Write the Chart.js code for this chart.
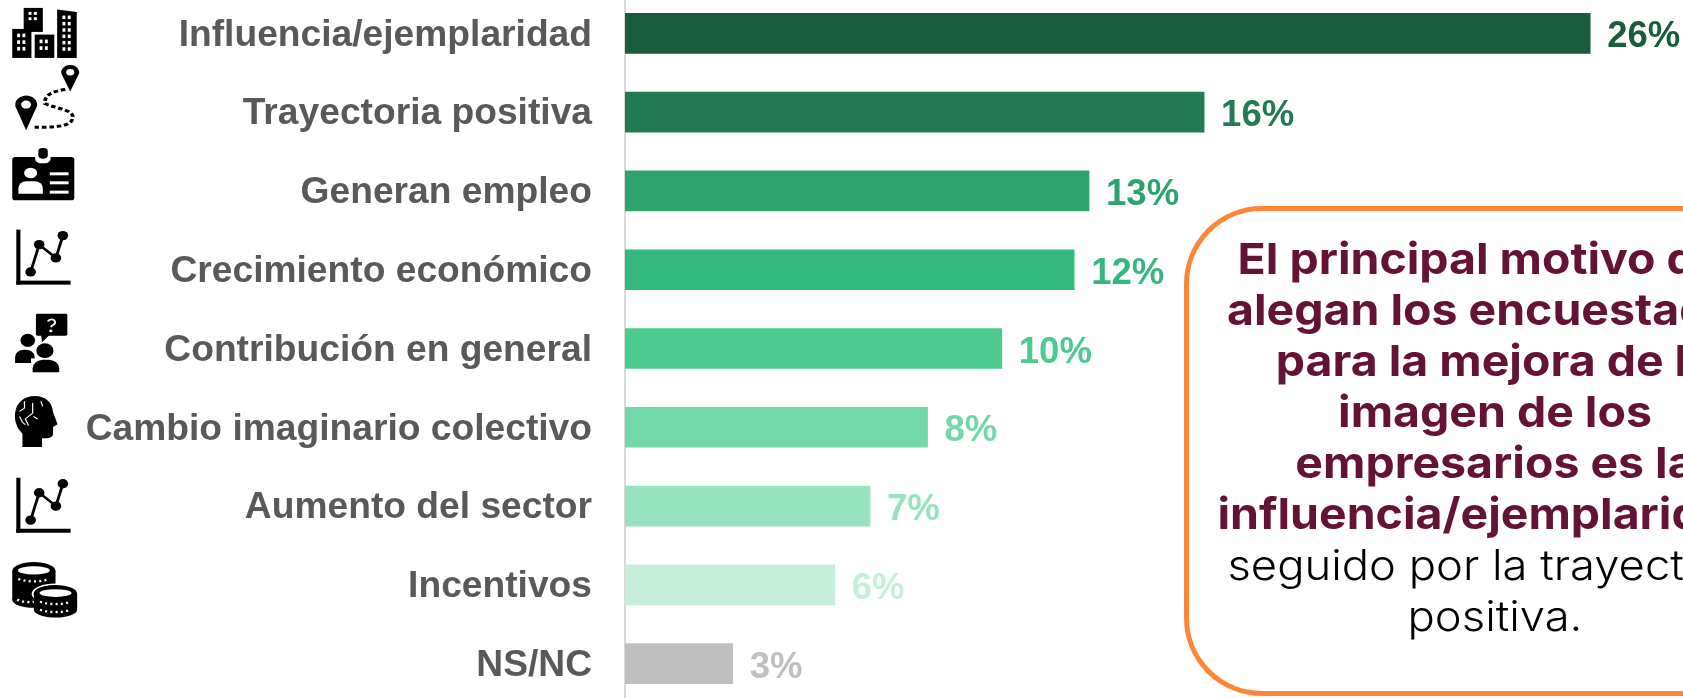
<!DOCTYPE html>
<html lang="es">
<head>
<meta charset="utf-8">
<title>Motivos de mejora de la imagen de los empresarios</title>
<script src="https://cdn.jsdelivr.net/npm/chart.js@4/dist/chart.umd.min.js"></script>
<style>
    html, body { margin: 0; padding: 0; width: 1683px; height: 698px; overflow: hidden; background: #fff; }
    #chart { position: absolute; left: 0; top: -6px; }
    #callout {
        position: absolute; left: 1184px; top: 206px; width: 612px; height: 480px;
        border: 5px solid #FF8636; border-radius: 78px; background: #fff;
        font-family: Inter, sans-serif; line-height: 51px;
        text-align: center; white-space: nowrap; color: #000;
    }
    #callout .text { padding-top: 22px; transform: scaleX(1.08); }
    #callout b { display: block; font-size: 43px; font-weight: 700; color: #651237; }
    #callout span { display: block; font-size: 42px; font-weight: 300; }
</style>
</head>
<body>
<canvas id="chart" width="1683" height="709"></canvas>
<div id="callout"><div class="text">
    <b>El principal motivo que</b>
    <b>alegan los encuestados</b>
    <b>para la mejora de la</b>
    <b>imagen de los</b>
    <b>empresarios es la</b>
    <b>influencia/ejemplaridad,</b>
    <span>seguido por la trayectoria</span>
    <span>positiva.</span>
</div></div>
<script>
const categories = ['Influencia/ejemplaridad', 'Trayectoria positiva', 'Generan empleo', 'Crecimiento económico',
    'Contribución en general', 'Cambio imaginario colectivo', 'Aumento del sector', 'Incentivos', 'NS/NC'];
const values = [26, 15.6, 12.5, 12.1, 10.15, 8.15, 6.6, 5.65, 2.9];
const barColors = ['#1A5C3E', '#237B55', '#2EA36E', '#35B87E', '#4BCB8F', '#73D8A9', '#97E2BF', '#C5EEDB', '#BFBFBF'];

function disc(ctx, x, y, r, ry) {
    ctx.beginPath();
    ctx.ellipse(x, y, r, ry || r, 0, 0, Math.PI * 2);
    ctx.fill();
}

function pin(ctx, x, y, r, tip) {
    ctx.fillStyle = '#000';
    ctx.beginPath();
    ctx.arc(x, y, r, Math.PI * 0.95, Math.PI * 0.05);
    ctx.lineTo(x, tip);
    ctx.closePath();
    ctx.fill();
    ctx.fillStyle = '#fff';
    disc(ctx, x, y, r * 0.45);
}

function windows(ctx, x, y, cols, rows, stepX, stepY) {
    ctx.fillStyle = '#fff';
    for (let c = 0; c < cols; c++) {
        for (let r = 0; r < rows; r++) {
            ctx.fillRect(x + c * stepX, y + r * stepY, stepX * 0.55, stepY * 0.55);
        }
    }
}

// pictograms are sketched in stretched units, see the scale call in iconPlugin
const drawBuildings = ctx => {
    ctx.fillStyle = '#000';
    ctx.fillRect(58, 25, 47, 72);
    ctx.fillRect(30, 88, 47, 87);
    ctx.fillRect(85, 105, 48, 70);
    ctx.beginPath();
    ctx.moveTo(140, 30); ctx.lineTo(188, 37); ctx.lineTo(188, 175); ctx.lineTo(140, 175);
    ctx.fill();
    windows(ctx, 70, 37, 2, 2, 13, 16);
    windows(ctx, 42, 102, 2, 3, 13, 20);
    windows(ctx, 97, 120, 2, 2, 13, 20);
    windows(ctx, 153, 48, 2, 6, 13, 19);
};

const drawRoute = ctx => {
    pin(ctx, 172, 218, 22, 276);
    pin(ctx, 64, 315, 27, 392);
    ctx.strokeStyle = '#000';
    ctx.lineWidth = 9;
    ctx.setLineDash([11, 7]);
    ctx.beginPath();
    ctx.moveTo(160, 270);
    ctx.bezierCurveTo(130, 275, 108, 285, 110, 312);
    ctx.bezierCurveTo(130, 325, 180, 330, 178, 352);
    ctx.bezierCurveTo(180, 385, 120, 383, 82, 383);
    ctx.stroke();
    ctx.setLineDash([]);
};

const drawBadge = ctx => {
    ctx.fillStyle = '#000';
    ctx.beginPath();
    ctx.roundRect(30, 472, 152, 130, 8);
    ctx.fill();
    ctx.fillStyle = '#fff';
    ctx.beginPath();
    ctx.roundRect(86, 445, 38, 46, 14);
    ctx.fill();
    ctx.fillStyle = '#000';
    ctx.beginPath();
    ctx.roundRect(94, 445, 23, 32, 10);
    ctx.fill();
    ctx.fillStyle = '#fff';
    disc(ctx, 75, 520, 16);
    ctx.beginPath();
    ctx.roundRect(45, 545, 60, 37, [20, 20, 0, 0]);
    ctx.fill();
    ctx.fillRect(122, 518, 46, 9);
    ctx.fillRect(122, 545, 46, 9);
    ctx.fillRect(122, 573, 46, 9);
};

const drawGrowth = ctx => {
    ctx.fillStyle = '#000';
    ctx.fillRect(40, 690, 10, 165);
    ctx.fillRect(40, 843, 133, 12);
    ctx.strokeStyle = '#000';
    ctx.lineWidth = 7;
    ctx.beginPath();
    ctx.moveTo(75, 817); ctx.lineTo(96, 735); ctx.lineTo(137, 775); ctx.lineTo(154, 708);
    ctx.stroke();
    [[75, 817], [96, 735], [137, 775], [154, 708]].forEach(p => disc(ctx, p[0], p[1], 13, 14));
};

const drawPeople = ctx => {
    ctx.fillStyle = '#000';
    ctx.beginPath();
    ctx.roundRect(88, 942, 77, 66, 4);
    ctx.fill();
    ctx.beginPath();
    ctx.moveTo(100, 1000); ctx.lineTo(122, 1005); ctx.lineTo(103, 1028);
    ctx.fill();
    disc(ctx, 68, 1022, 18, 20);
    ctx.beginPath();
    ctx.roundRect(37, 1050, 48, 40, [22, 22, 0, 0]);
    ctx.fill();
    disc(ctx, 110, 1053, 21, 22);
    ctx.fillStyle = '#fff';
    ctx.fillRect(76, 1076, 12, 16);
    ctx.fillStyle = '#000';
    ctx.beginPath();
    ctx.roundRect(80, 1080, 65, 38, [26, 26, 0, 0]);
    ctx.fill();
    ctx.strokeStyle = '#fff';
    ctx.lineWidth = 5;
    ctx.beginPath();
    ctx.arc(126, 968, 9, Math.PI * 1.1, Math.PI * 0.4);
    ctx.lineTo(124, 982);
    ctx.stroke();
    ctx.fillStyle = '#fff';
    ctx.fillRect(121, 990, 7, 7);
};

const drawHead = ctx => {
    ctx.fillStyle = '#000';
    ctx.beginPath();
    ctx.moveTo(55, 1342); ctx.lineTo(55, 1302);
    ctx.bezierCurveTo(40, 1284, 35, 1262, 37, 1240);
    ctx.bezierCurveTo(40, 1208, 60, 1189, 85, 1189);
    ctx.bezierCurveTo(112, 1189, 128, 1208, 130, 1238);
    ctx.lineTo(141, 1274); ctx.lineTo(130, 1282); ctx.lineTo(130, 1306);
    ctx.bezierCurveTo(125, 1316, 115, 1316, 103, 1316);
    ctx.lineTo(103, 1342);
    ctx.closePath();
    ctx.fill();
    ctx.strokeStyle = '#fff';
    ctx.lineWidth = 3;
    ctx.beginPath();
    ctx.moveTo(60, 1205); ctx.lineTo(60, 1225); ctx.lineTo(48, 1235);
    ctx.moveTo(80, 1210); ctx.lineTo(80, 1240); ctx.lineTo(62, 1258); ctx.lineTo(70, 1278);
    ctx.moveTo(100, 1205); ctx.lineTo(105, 1220);
    ctx.moveTo(48, 1250); ctx.lineTo(55, 1268); ctx.lineTo(62, 1275);
    ctx.moveTo(82, 1250); ctx.lineTo(92, 1258);
    ctx.stroke();
};

function coinStack(ctx, x, top, bottom, rx, ry) {
    ctx.fillStyle = '#000';
    disc(ctx, x, top, rx, ry);
    ctx.fillRect(x - rx, top, rx * 2, bottom - top);
    disc(ctx, x, bottom, rx, ry * 0.9);
    ctx.fillStyle = '#fff';
    disc(ctx, x, top - 2, rx * 0.74, ry * 0.45);
}

function coinDots(ctx, x, y, halfWidth) {
    ctx.strokeStyle = '#fff';
    ctx.lineWidth = 7;
    ctx.setLineDash([5, 8]);
    ctx.beginPath();
    ctx.moveTo(x - halfWidth, y);
    ctx.quadraticCurveTo(x, y + 14, x + halfWidth, y);
    ctx.stroke();
    ctx.setLineDash([]);
}

const drawCoins = ctx => {
    coinStack(ctx, 83, 1714, 1800, 53, 27);
    coinDots(ctx, 83, 1738, 38);
    coinDots(ctx, 72, 1800, 30);
    ctx.strokeStyle = '#fff';
    ctx.lineWidth = 5;
    ctx.beginPath();
    ctx.ellipse(136, 1782, 56, 28, 0, 0, Math.PI * 2);
    ctx.stroke();
    coinStack(ctx, 136, 1782, 1830, 53, 26);
    coinDots(ctx, 136, 1806, 38);
    coinDots(ctx, 136, 1830, 38);
};

const iconDrawers = [drawBuildings, drawRoute, drawBadge, drawGrowth, drawPeople, drawHead, drawGrowth, drawCoins];
// shift from each row centre to the origin of that icon's sketch
const iconOffsets = [-33.8, -112.6, -191.3, -270.1, -348.8, -427.6, -258.3, -585.1];

const iconPlugin = {
    id: 'iconPlugin',
    afterDraw(chart) {
        const ctx = chart.ctx;
        iconDrawers.forEach((draw, i) => {
            ctx.save();
            ctx.translate(0, chart.scales.y.getPixelForValue(i) + iconOffsets[i]);
            ctx.scale(1 / 2.45, 1 / 3);
            draw(ctx);
            ctx.restore();
        });
    }
};

const valueLabels = {
    id: 'valueLabels',
    afterDatasetsDraw(chart) {
        const ctx = chart.ctx;
        ctx.save();
        ctx.font = 'bold 36.5px "Liberation Sans"';
        ctx.textAlign = 'left';
        ctx.textBaseline = 'middle';
        chart.getDatasetMeta(0).data.forEach((bar, i) => {
            ctx.fillStyle = barColors[i];
            ctx.fillText(Math.round(values[i]) + '%', bar.x + 17, bar.y + 4);
        });
        ctx.restore();
    }
};

// category labels sit a touch below the bar centres
const lowerTicks = {
    id: 'lowerTicks',
    beforeDraw(chart) {
        chart.scales.y.getLabelItems().forEach(item => { item.textOffset = 2; });
    }
};

new Chart(document.getElementById('chart'), {
    type: 'bar',
    data: {
        labels: categories,
        datasets: [{
            data: values,
            backgroundColor: barColors,
            barThickness: 40
        }]
    },
    options: {
        indexAxis: 'y',
        responsive: false,
        animation: false,
        layout: { padding: 0 },
        plugins: { legend: { display: false }, tooltip: { enabled: false } },
        scales: {
            x: { display: false, min: 0, max: 28.5 },
            y: {
                afterFit: scale => {
                    scale.width = 625;
                    // tick padding would otherwise inset the bands top and bottom
                    scale.paddingTop = 0;
                    scale.paddingBottom = 0;
                },
                grid: { display: false, drawTicks: false },
                border: { color: '#D9D9D9', width: 2 },
                ticks: {
                    autoSkip: false,
                    padding: 33,
                    color: '#595959',
                    font: { family: '"Liberation Sans"', weight: 'bold', size: 37.2 }
                }
            }
        }
    },
    plugins: [lowerTicks, valueLabels, iconPlugin]
});
</script>
</body>
</html>
